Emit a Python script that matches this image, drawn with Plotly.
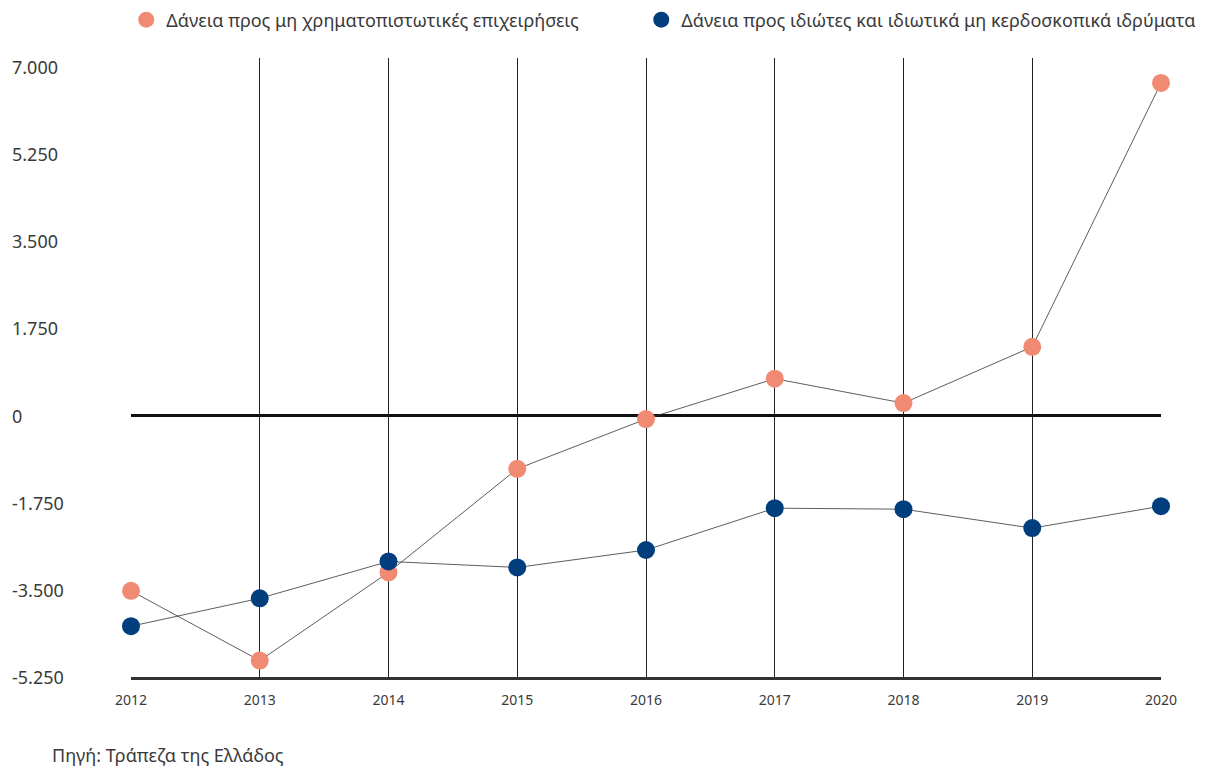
import plotly.graph_objects as go

years = [2012, 2013, 2014, 2015, 2016, 2017, 2018, 2019, 2020]
nfc_loans = [-3520, -4920, -3150, -1070, -70, 740, 250, 1380, 6680]
household_loans = [-4230, -3670, -2930, -3050, -2700, -1860, -1880, -2260, -1820]
series_names = ["Δάνεια προς μη χρηματοπιστωτικές επιχειρήσεις",
                "Δάνεια προς ιδιώτες και ιδιωτικά μη κερδοσκοπικά ιδρύματα"]
y_ticks = [7000, 5250, 3500, 1750, 0, -1750, -3500, -5250]
y_tick_labels = ["7.000", "5.250", "3.500", "1.750", "0", "-1.750", "-3.500", "-5.250"]
source_text = "Πηγή: Τράπεζα της Ελλάδος"

FONT = "Noto Sans"
TXT = "#3a3a3a"

fig = go.Figure()
for vals in [nfc_loans, household_loans]:
    fig.add_trace(go.Scatter(
        x=years, y=vals, mode="lines", showlegend=False, hoverinfo="skip",
        line=dict(color="#333333", width=0.8), cliponaxis=False,
    ))
for vals, name, color, lg in [(nfc_loans, series_names[0], "#F08A73", "legend"),
                              (household_loans, series_names[1], "#023E7D", "legend2")]:
    fig.add_trace(go.Scatter(
        x=years, y=vals, name=name, mode="markers", legend=lg,
        marker=dict(color=color, size=18, line=dict(width=0)),
        cliponaxis=False,
    ))

annotations = []
for v, t in zip(y_ticks, y_tick_labels):
    annotations.append(dict(x=-0.1175, xref="paper", y=v, yref="y", text=t,
                            showarrow=False, xanchor="left", yanchor="middle",
                            font=dict(family=FONT, size=18, color=TXT)))
annotations.append(dict(x=-0.0786, xref="paper", y=-0.126, yref="paper", text=source_text,
                        showarrow=False, xanchor="left", yanchor="middle",
                        font=dict(family=FONT, size=18, color=TXT)))

legend_common = dict(orientation="h", y=0.974, xref="paper", yref="container",
                     xanchor="left", yanchor="middle",
                     font=dict(family=FONT, size=18, color=TXT), itemsizing="trace")

fig.update_layout(
    width=1205, height=769,
    margin=dict(l=131, r=44, t=58, b=92, autoexpand=False),
    plot_bgcolor="white", paper_bgcolor="white",
    font=dict(family=FONT, color=TXT),
    showlegend=True,
    legend=dict(x=-0.0046, **legend_common),
    legend2=dict(x=0.4954, **legend_common),
    xaxis=dict(range=[2012, 2020], tickvals=years, ticktext=[str(y) for y in years],
               showgrid=True, gridcolor="#222222", gridwidth=1,
               zeroline=False, showline=True, linecolor="#333333", linewidth=2.5,
               ticks="", tickfont=dict(family=FONT, size=14, color=TXT),
               ticklabelstandoff=8),
    yaxis=dict(range=[-5250, 7180], tickvals=y_ticks, showticklabels=False,
               showgrid=False, zeroline=True, zerolinecolor="#111111", zerolinewidth=2.5,
               showline=False),
    annotations=annotations,
)

fig.write_html("out.html", config={"displayModeBar": False},
               post_script="document.body.style.margin='0';document.body.style.overflow='hidden';")
